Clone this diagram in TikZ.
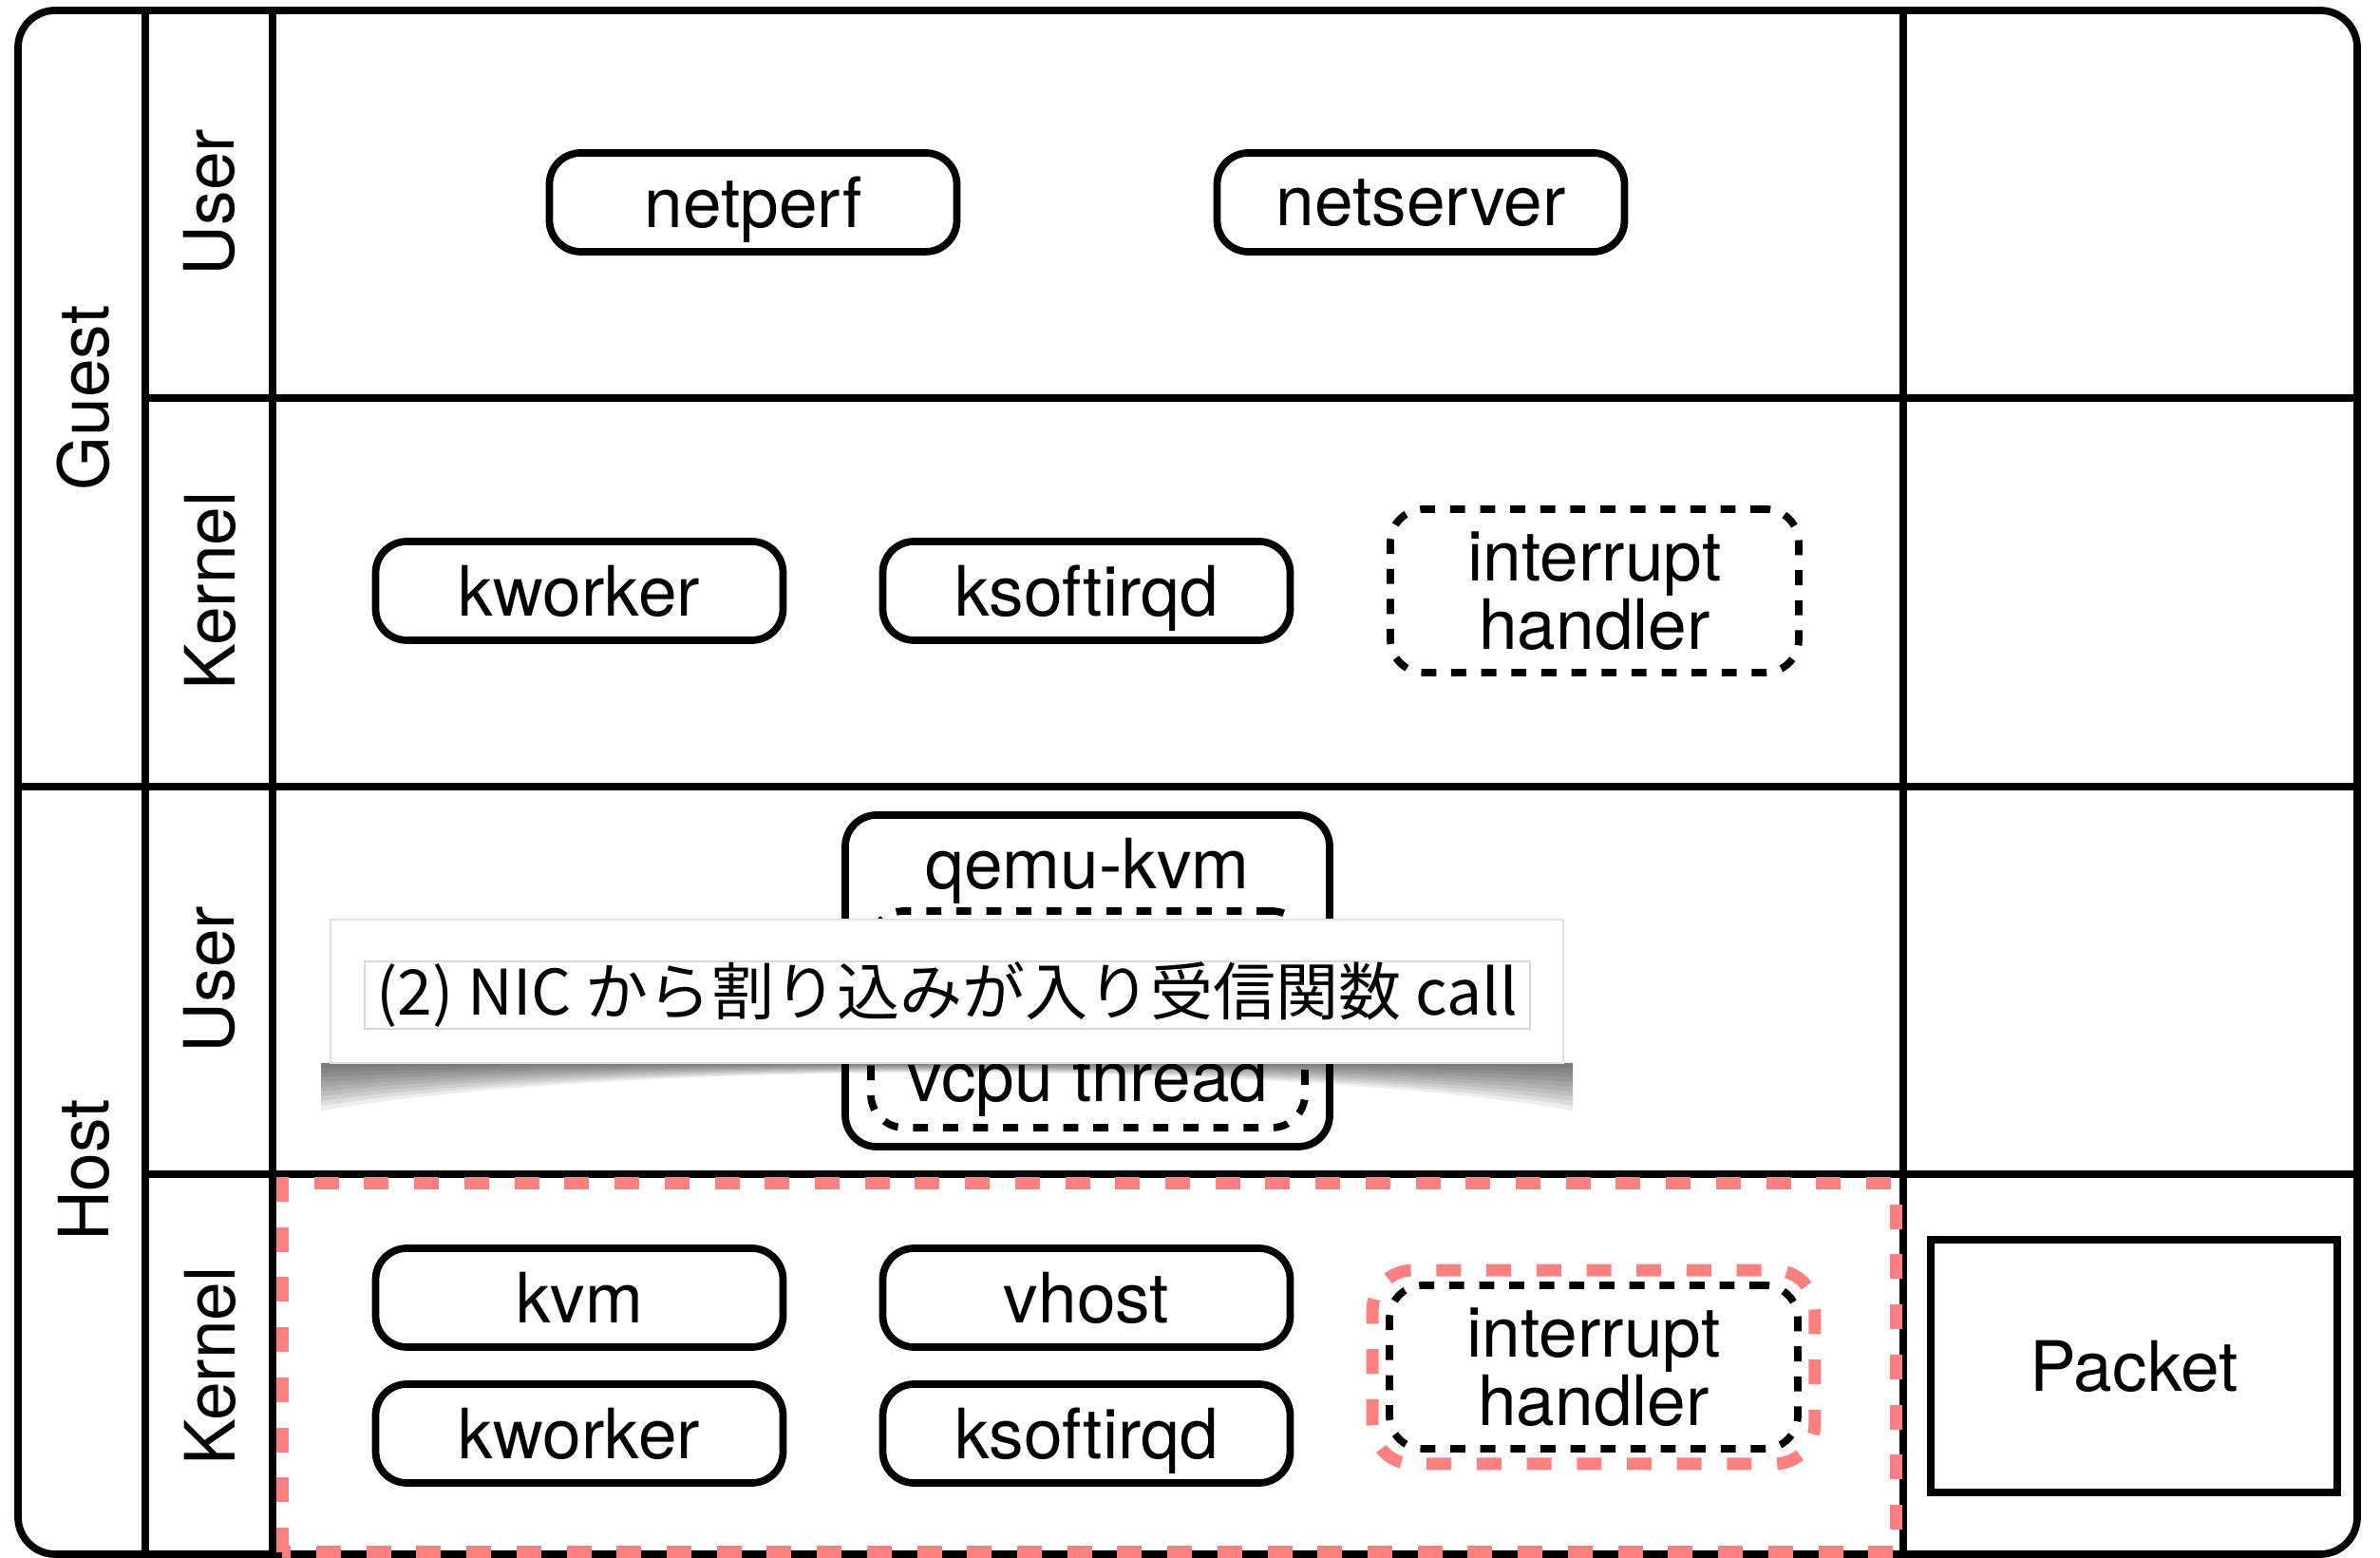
\documentclass[tikz,border=0pt]{standalone}
\usepackage{fontspec}
\setmainfont{TeX Gyre Heros}
\newfontfamily\cjk{Noto Sans CJK JP}
\definecolor{hilite}{RGB}{255,128,128}

\begin{document}
\begin{tikzpicture}[
	font=\fontsize{20.8}{20.5}\selectfont,
	frame/.style={line width=2.2pt},
	word/.style={text depth=0pt},
	proc/.style={word, shape=rectangle, draw, line width=2.2pt, rounded corners=0.33cm, minimum width=4.29cm, minimum height=1.04cm, inner sep=0pt},
	irq/.style={shape=rectangle, draw, line width=2.2pt, dash pattern=on 4.5pt off 4.5pt, rounded corners=0.35cm, minimum width=4.30cm, minimum height=1.72cm, align=center, inner sep=0pt},
	hot/.style={draw=hilite, line width=3.7pt, dash pattern=on 7.4pt off 7.6pt},
	layer/.style={rotate=90, anchor=center}
]
	\useasboundingbox (0,0) rectangle (25.06,16.40);
	% Frame and layers:
	\draw[frame, rounded corners=0.39cm] (0.19,0.04) rectangle (24.82,16.29);
	\draw[frame] (1.53,0.04) -- (1.53,16.29);
	\draw[frame] (2.87,0.04) -- (2.87,16.29);
	\draw[frame] (20.04,0.04) -- (20.04,16.29);
	\draw[frame] (0.19,8.12) -- (24.82,8.12);
	\draw[frame] (1.53,12.21) -- (24.82,12.21);
	\draw[frame] (1.53,4.04) -- (24.82,4.04);
	\node[layer] (guest) at (0.88,12.21) {Guest};
	\node[layer] (host) at (0.88,4.08) {Host};
	\node[layer] (guser) at (2.21,14.27) {User};
	\node[layer] (gkernel) at (2.21,10.18) {Kernel};
	\node[layer] (huser) at (2.21,6.09) {User};
	\node[layer] (hkernel) at (2.21,2.02) {Kernel};
	\draw[hot] (2.97,0.06) rectangle (19.96,3.94);
	% Guest processes:
	\node[proc] (netperf) at (7.93,14.27) {netperf};
	\node[proc] (netserver) at (14.96,14.27) {netserver};
	\node[proc] (gkworker) at (6.10,10.18) {kworker};
	\node[proc] (gksoftirqd) at (11.44,10.18) {ksoftirqd};
	\node[irq] (girq) at (16.79,10.18) {interrupt\\handler};
	% Host user:
	\node[proc, minimum width=5.10cm, minimum height=3.49cm] (qemu) at (11.45,6.075) {};
	\node[word] (qemulabel) at (11.45,7.31) {qemu-kvm};
	\node[irq, minimum width=4.57cm, minimum height=2.28cm] (vcpu) at (11.455,5.67) {};
	\node[word] (vcpulabel) at (11.455,5.07) {vcpu thread};
	% Callout with curled shadow:
	\foreach \k in {1,...,10}{
		\pgfmathsetmacro\ys{5.21-0.05*\k}
		\pgfmathsetmacro\yc{5.21+0.0033*\k}
		\fill[black, opacity=0.07] (3.38,5.21) -- (16.56,5.21) -- (16.56,\ys) .. controls (13.5,\yc) and (6.5,\yc) .. (3.38,\ys) -- cycle;
	}
	\node[shape=rectangle, fill=white, draw=black!12, line width=0.4pt, minimum width=12.98cm, minimum height=1.51cm] (callout) at (9.97,5.965) {};
	\node[shape=rectangle, draw=black!15, line width=0.4pt, minimum width=12.27cm, minimum height=0.71cm, inner sep=0pt, font=\cjk\fontsize{18.8}{18.8}\selectfont] (note) at (9.975,5.925) {(2) NIC から割り込みが入り受信関数 call};
	% Host kernel:
	\node[proc] (kvm) at (6.10,2.74) {kvm};
	\node[proc] (hkworker) at (6.10,1.31) {kworker};
	\node[proc] (vhost) at (11.44,2.74) {vhost};
	\node[proc] (hksoftirqd) at (11.44,1.31) {ksoftirqd};
	\node[irq] (hirq) at (16.78,2.01) {interrupt\\handler};
	\draw[hot, rounded corners=0.42cm] ([shift={(-0.14,-0.12)}]hirq.south west) rectangle ([shift={(0.14,0.12)}]hirq.north east);
	\node[shape=rectangle, draw, line width=2.2pt, minimum width=4.28cm, minimum height=2.66cm] (packet) at (22.47,2.02) {Packet};
\end{tikzpicture}
\end{document}
